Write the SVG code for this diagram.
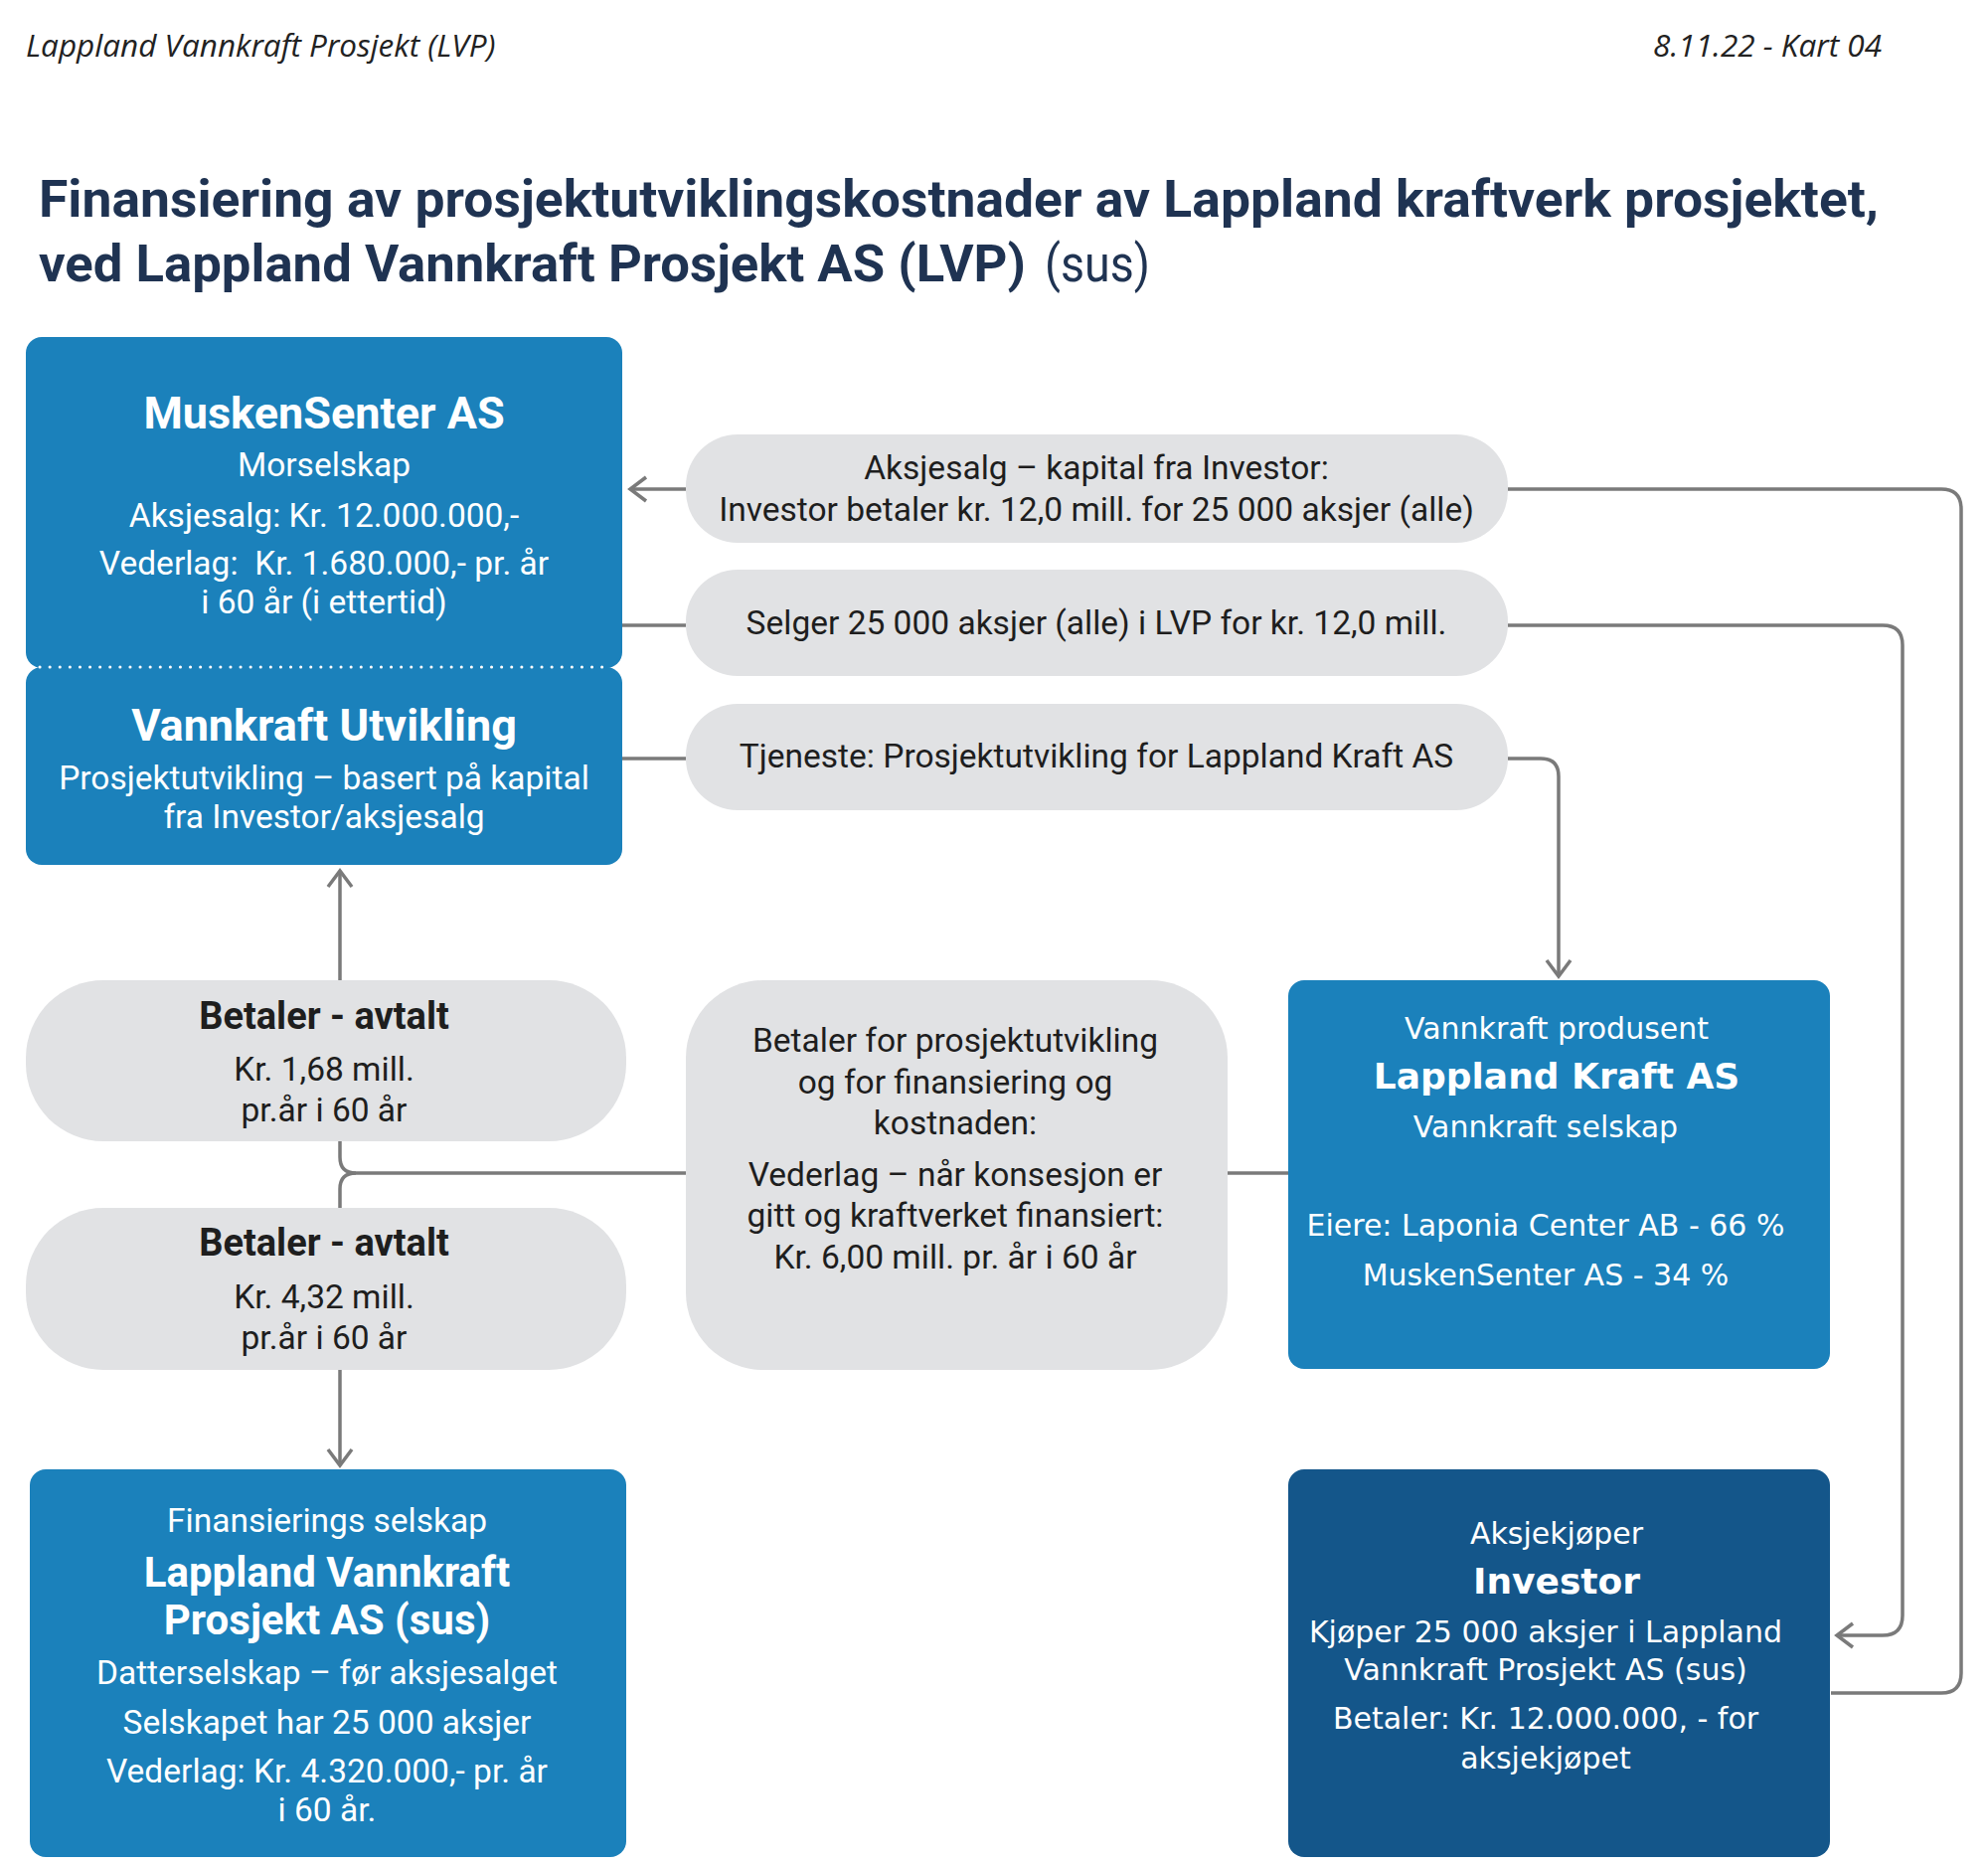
<svg xmlns="http://www.w3.org/2000/svg" width="2000" height="1876" viewBox="0 0 2000 1876">
<defs>
<style>
.bg{fill:#ffffff}
.box{fill:#1b81bb}
.dark{fill:#14568a}
.pill{fill:#e1e2e4}
.t{font-family:Roboto,"Noto Sans",sans-serif;text-anchor:middle}
.w{fill:#ffffff}
.k{fill:#1e1e1e}
.b{font-weight:bold}
.s29{font-size:33.5px}
.s40{font-size:45px}
.s42{font-size:42px}
.s32{font-size:38px}
.v{font-family:"DejaVu Sans","Noto Sans",sans-serif;text-anchor:middle;fill:#ffffff;font-size:30px}
.vb{font-family:"DejaVu Sans","Noto Sans",sans-serif;text-anchor:middle;fill:#ffffff;font-size:36px;font-weight:bold}
.ln{fill:none;stroke:#7a7a7a;stroke-width:3.5}
.hd{font-family:"Open Sans","Noto Sans",sans-serif;font-style:italic;font-size:31.5px;fill:#222222}
.ti{font-family:Roboto,"Noto Sans",sans-serif;font-size:52px;font-weight:bold;fill:#1f3352}
</style>
<marker id="ah" markerWidth="24" markerHeight="28" refX="20" refY="14" orient="auto" markerUnits="userSpaceOnUse">
<path d="M4,2 L20,14 L4,26" fill="none" stroke="#7a7a7a" stroke-width="3.5"/>
</marker>
</defs>
<rect class="bg" x="0" y="0" width="2000" height="1876"/>

<g id="header">
<text class="hd" x="26" y="57">Lappland Vannkraft Prosjekt (LVP)</text>
<text class="hd" x="1893" y="57" text-anchor="end">8.11.22 - Kart 04</text>
<text class="ti" x="39" y="218" textLength="1851" lengthAdjust="spacingAndGlyphs">Finansiering av prosjektutviklingskostnader av Lappland kraftverk prosjektet,</text>
<text class="ti" x="39" y="283" textLength="993" lengthAdjust="spacingAndGlyphs">ved Lappland Vannkraft Prosjekt AS (LVP)</text>
<text x="1051" y="283" font-family="Roboto,'Noto Sans',sans-serif" font-size="52px" fill="#1f3352" textLength="106" lengthAdjust="spacingAndGlyphs">(sus)</text>
</g>

<g id="connectors">
<path class="ln" d="M690,492 H634" marker-end="url(#ah)"/>
<path class="ln" d="M1842,1703 H1953 Q1973,1703 1973,1683 V512 Q1973,492 1953,492 H1517"/>
<path class="ln" d="M626,629 H690"/>
<path class="ln" d="M1517,629 H1894 Q1914,629 1914,649 V1625 Q1914,1645 1894,1645 H1848" marker-end="url(#ah)"/>
<path class="ln" d="M626,763 H690"/>
<path class="ln" d="M1517,763 H1550 Q1568,763 1568,781 V982" marker-end="url(#ah)"/>
<path class="ln" d="M342,986 V876" marker-end="url(#ah)"/>
<path class="ln" d="M342,1148 V1164 Q342,1180 358,1180 H690"/>
<path class="ln" d="M342,1215 V1196 Q342,1180 358,1180"/>
<path class="ln" d="M342,1378 V1474" marker-end="url(#ah)"/>
<path class="ln" d="M1235,1180 H1296"/>
</g>

<g id="muskensenter">
<rect class="box" x="26" y="339" width="600" height="333" rx="16"/>
<text class="t w b s40" x="326" y="431">MuskenSenter AS</text>
<text class="t w s29" x="326" y="479">Morselskap</text>
<text class="t w s29" x="326" y="530">Aksjesalg: Kr. 12.000.000,-</text>
<text class="t w s29" x="326" y="578">Vederlag:&#160; Kr. 1.680.000,- pr. år</text>
<text class="t w s29" x="326" y="617">i 60 år (i ettertid)</text>
</g>

<g id="vannkraft-utvikling">
<rect class="box" x="26" y="671" width="600" height="199" rx="16"/>
<line x1="40" y1="671" x2="612" y2="671" stroke="#ffffff" stroke-width="3" stroke-dasharray="0.1 10" stroke-linecap="round"/>
<text class="t w b s40" x="326" y="745">Vannkraft Utvikling</text>
<text class="t w s29" x="326" y="794">Prosjektutvikling – basert på kapital</text>
<text class="t w s29" x="326" y="833">fra Investor/aksjesalg</text>
</g>

<g id="pill-aksjesalg">
<rect class="pill" x="690" y="437" width="827" height="109" rx="52"/>
<text class="t k s29" x="1103" y="482">Aksjesalg – kapital fra Investor:</text>
<text class="t k s29" x="1103" y="524">Investor betaler kr. 12,0 mill. for 25 000 aksjer (alle)</text>
</g>

<g id="pill-selger">
<rect class="pill" x="690" y="573" width="827" height="107" rx="52"/>
<text class="t k s29" x="1103" y="638">Selger 25 000 aksjer (alle) i LVP for kr. 12,0 mill.</text>
</g>

<g id="pill-tjeneste">
<rect class="pill" x="690" y="708" width="827" height="107" rx="52"/>
<text class="t k s29" x="1103" y="772">Tjeneste: Prosjektutvikling for Lappland Kraft AS</text>
</g>

<g id="betaler-1">
<rect class="pill" x="26" y="986" width="604" height="162" rx="78"/>
<text class="t k b s32" x="326" y="1035">Betaler - avtalt</text>
<text class="t k s29" x="326" y="1087">Kr. 1,68 mill.</text>
<text class="t k s29" x="326" y="1128">pr.år i 60 år</text>
</g>

<g id="betaler-2">
<rect class="pill" x="26" y="1215" width="604" height="163" rx="78"/>
<text class="t k b s32" x="326" y="1263">Betaler - avtalt</text>
<text class="t k s29" x="326" y="1316">Kr. 4,32 mill.</text>
<text class="t k s29" x="326" y="1357">pr.år i 60 år</text>
</g>

<g id="betaler-center">
<rect class="pill" x="690" y="986" width="545" height="392" rx="78"/>
<text class="t k s29" x="961" y="1058">Betaler for prosjektutvikling</text>
<text class="t k s29" x="961" y="1100">og for finansiering og</text>
<text class="t k s29" x="961" y="1141">kostnaden:</text>
<text class="t k s29" x="961" y="1193">Vederlag – når konsesjon er</text>
<text class="t k s29" x="961" y="1234">gitt og kraftverket finansiert:</text>
<text class="t k s29" x="961" y="1276">Kr. 6,00 mill. pr. år i 60 år</text>
</g>

<g id="lappland-kraft">
<rect class="box" x="1296" y="986" width="545" height="391" rx="16"/>
<text class="v" x="1566" y="1045">Vannkraft produsent</text>
<text class="vb" x="1566" y="1095">Lappland Kraft AS</text>
<text class="v" x="1555" y="1144">Vannkraft selskap</text>
<text class="v" x="1555" y="1243">Eiere: Laponia Center AB - 66 %</text>
<text class="v" x="1555" y="1293">MuskenSenter AS - 34 %</text>
</g>

<g id="investor">
<rect class="dark" x="1296" y="1478" width="545" height="390" rx="16"/>
<text class="v" x="1566" y="1553">Aksjekjøper</text>
<text class="vb" x="1566" y="1603">Investor</text>
<text class="v" x="1555" y="1652">Kjøper 25 000 aksjer i Lappland</text>
<text class="v" x="1555" y="1690">Vannkraft Prosjekt AS (sus)</text>
<text class="v" x="1555" y="1739">Betaler: Kr. 12.000.000, - for</text>
<text class="v" x="1555" y="1779">aksjekjøpet</text>
</g>

<g id="lvp">
<rect class="box" x="30" y="1478" width="600" height="390" rx="16"/>
<text class="t w s29" x="329" y="1541">Finansierings selskap</text>
<text class="t w b s42" x="329" y="1596">Lappland Vannkraft</text>
<text class="t w b s42" x="329" y="1644">Prosjekt AS (sus)</text>
<text class="t w s29" x="329" y="1694">Datterselskap – før aksjesalget</text>
<text class="t w s29" x="329" y="1744">Selskapet har 25 000 aksjer</text>
<text class="t w s29" x="329" y="1793">Vederlag: Kr. 4.320.000,- pr. år</text>
<text class="t w s29" x="329" y="1832">i 60 år.</text>
</g>
</svg>
